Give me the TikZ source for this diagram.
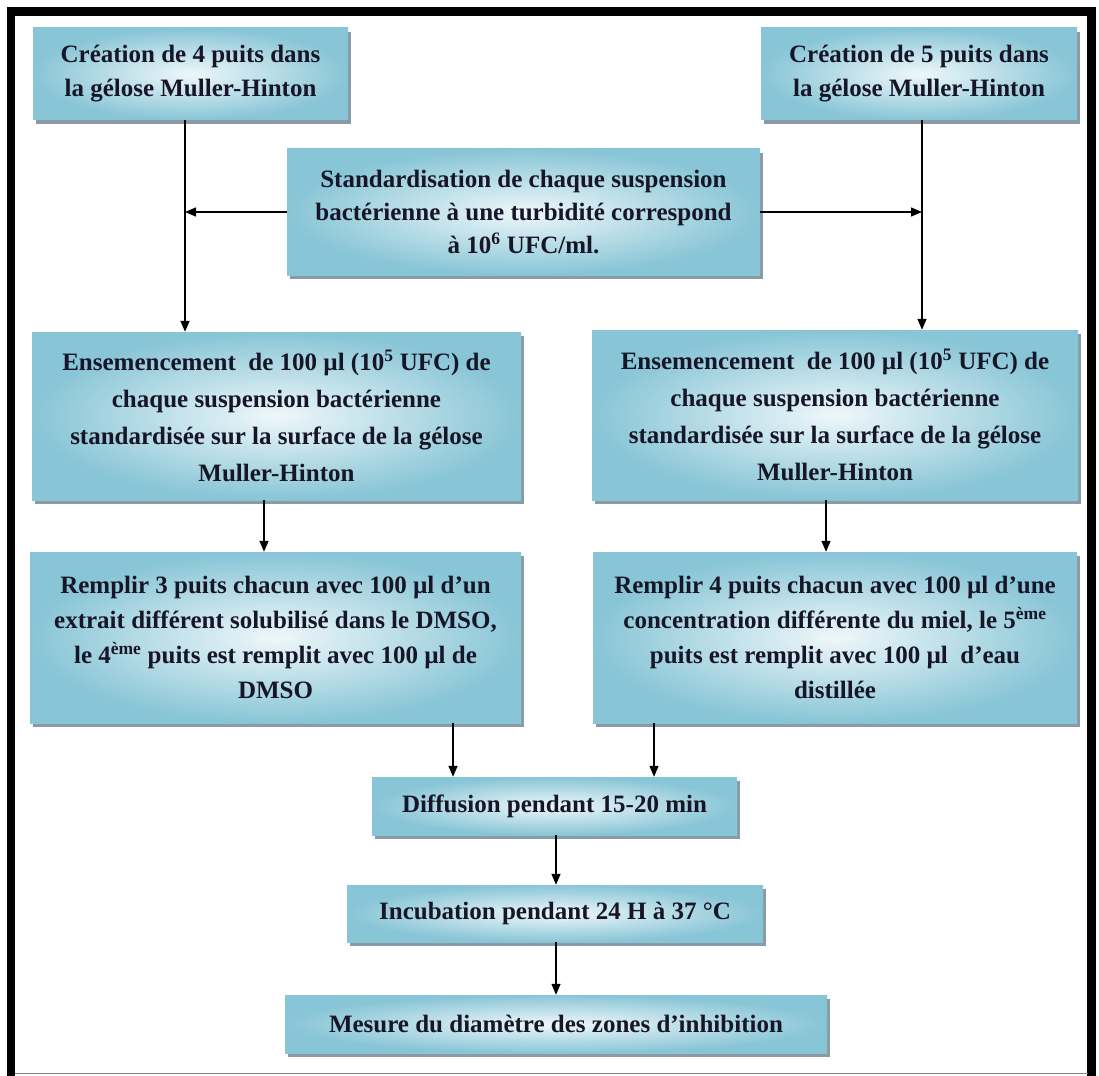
\documentclass[tikz,border=0pt]{standalone}
\usepackage{fontspec}
\setmainfont{Liberation Serif}
\usetikzlibrary{arrows.meta,shadows,calc}
\definecolor{boxout}{RGB}{136,197,214}
\definecolor{boxin}{RGB}{238,247,250}
\definecolor{txt}{RGB}{22,22,40}
\definecolor{shad}{RGB}{125,145,155}
\tikzset{
  flowbox/.style={rectangle, inner sep=0pt, align=center, text=txt,
    font=\fontsize{25}{35}\selectfont\bfseries,
    inner color=boxin, outer color=boxout,
    drop shadow={shadow xshift=3pt, shadow yshift=-4pt, fill=shad, opacity=0.9}},
  conn/.style={line width=1.4pt, draw=black},
  arr/.style={conn, -{Triangle[length=11pt,width=9pt]}}
}
\begin{document}
\begin{tikzpicture}[x=1pt,y=-1pt]
\useasboundingbox (0,0) rectangle (1099,1075);
\fill[white] (0,0) rectangle (1099,1075);
% frame
\draw[line width=8.5pt, line join=miter] (11,1078) -- (11,11.5) -- (1091.5,11.5) -- (1091.5,1078);
\draw[line width=1pt, gray] (15,1073.5) -- (1088,1073.5);

% guide coordinates
\coordinate (l1) at (185,0);
\coordinate (r1) at (922,0);
\coordinate (l2) at (264,0);
\coordinate (r2) at (826,0);
\coordinate (l3) at (453,0);
\coordinate (r3) at (654,0);
\coordinate (c3) at (556,0);

% nodes
\node[flowbox, minimum width=315pt, minimum height=92pt, font=\fontsize{25}{34}\selectfont\bfseries] (b1) at (190.5,74)
  {Création de 4 puits dans\\la gélose Muller-Hinton};
\node[flowbox, minimum width=316pt, minimum height=92pt, font=\fontsize{25}{34}\selectfont\bfseries] (b2) at (919,74)
  {Création de 5 puits dans\\la gélose Muller-Hinton};
\node[flowbox, minimum width=473pt, minimum height=126pt, font=\fontsize{25}{33}\selectfont\bfseries] (std) at (523.5,212)
  {Standardisation de chaque suspension\\bactérienne à une turbidité correspond\\à 10\textsuperscript{6} UFC/ml.};
\node[flowbox, minimum width=489pt, minimum height=168pt, font=\fontsize{25}{37}\selectfont\bfseries] (ensL) at (276.5,416)
  {Ensemencement~ de 100 µl (10\textsuperscript{5} UFC) de\\chaque suspension bactérienne\\standardisée sur la surface de la gélose\\Muller-Hinton};
\node[flowbox, minimum width=486pt, minimum height=170pt, font=\fontsize{25}{37}\selectfont\bfseries] (ensR) at (835,415)
  {Ensemencement~ de 100 µl (10\textsuperscript{5} UFC) de\\chaque suspension bactérienne\\standardisée sur la surface de la gélose\\Muller-Hinton};
\node[flowbox, minimum width=491pt, minimum height=171pt] (remL) at (275.5,637.5)
  {Remplir 3 puits chacun avec 100 µl d’un\\extrait différent solubilisé dans le DMSO,\\le 4\textsuperscript{ème} puits est remplit avec 100 µl de\\DMSO};
\node[flowbox, minimum width=484pt, minimum height=171pt] (remR) at (835,637.5)
  {Remplir 4 puits chacun avec 100 µl d’une\\concentration différente du miel, le 5\textsuperscript{ème}\\puits est remplit avec 100 µl~ d’eau\\distillée};
\node[flowbox, minimum width=365pt, minimum height=58pt] (diff) at (554.5,806)
  {Diffusion pendant 15-20 min};
\node[flowbox, minimum width=416pt, minimum height=57pt] (inc) at (555,913.5)
  {Incubation pendant 24 H à 37 °C};
\node[flowbox, minimum width=542pt, minimum height=58pt] (mes) at (556,1024)
  {Mesure du diamètre des zones d’inhibition};

% connectors
\draw[arr] (b1.south -| l1) -- (ensL.north -| l1);
\draw[arr] (b2.south -| r1) -- (ensR.north -| r1);
\draw[arr] (std.west) -- (std.west -| l1);
\draw[arr] (std.east) -- (std.east -| r1);
\draw[arr] (ensL.south -| l2) -- (remL.north -| l2);
\draw[arr] (ensR.south -| r2) -- (remR.north -| r2);
\draw[arr] (remL.south -| l3) -- (diff.north -| l3);
\draw[arr] (remR.south -| r3) -- (diff.north -| r3);
\draw[arr] (diff.south -| c3) -- (inc.north -| c3);
\draw[arr] (inc.south -| c3) -- (mes.north -| c3);
\end{tikzpicture}
\end{document}
